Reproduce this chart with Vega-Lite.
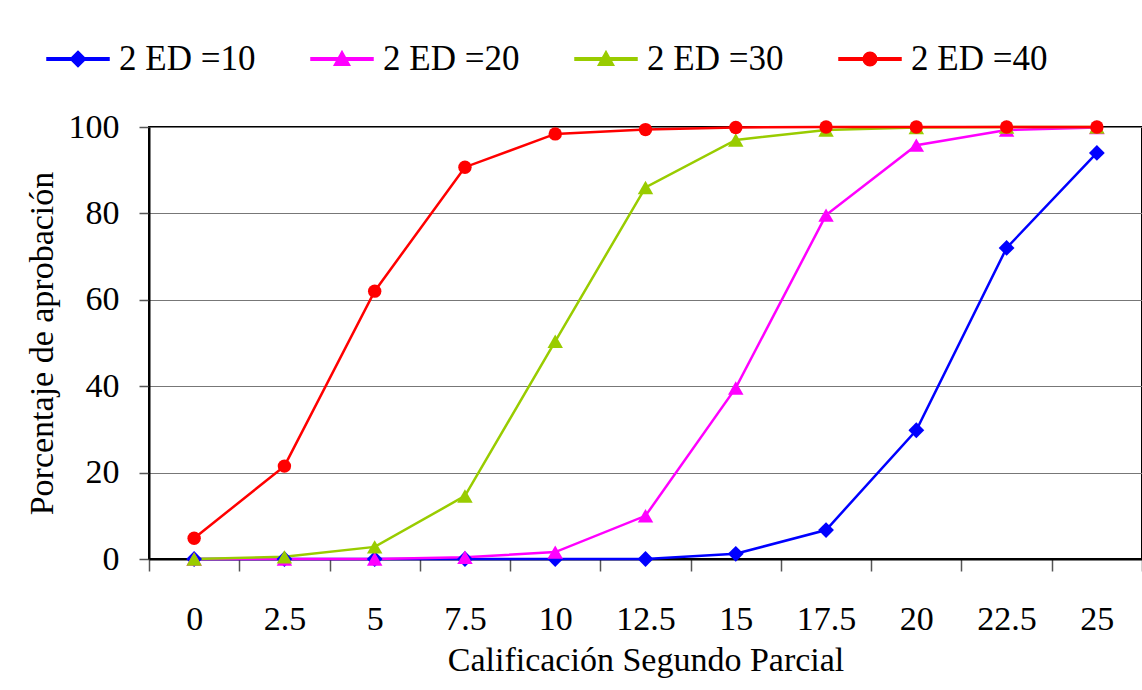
{
  "$schema": "https://vega.github.io/schema/vega-lite/v6.json",
  "autosize": "none",
  "width": 993,
  "height": 432,
  "padding": {"left": 149, "top": 127, "right": 0, "bottom": 131},
  "background": "white",
  "config": {
    "view": {"stroke": "black", "strokeWidth": 2},
    "font": "Liberation Serif",
    "axis": {"labelFont": "Liberation Serif", "titleFont": "Liberation Serif", "labelColor": "black", "titleColor": "black", "titleFontWeight": "normal", "labelFontSize": 34, "titleFontSize": 34, "domainColor": "black", "domainWidth": 2, "tickColor": "#555", "tickWidth": 1.5},
    "legend": {"labelFont": "Liberation Serif", "labelFontSize": 35, "labelColor": "black"}
  },
  "data": {"values": [
    {"x": 0, "s": "2 ED =10", "y": 0}, {"x": 2.5, "s": "2 ED =10", "y": 0}, {"x": 5, "s": "2 ED =10", "y": 0}, {"x": 7.5, "s": "2 ED =10", "y": 0}, {"x": 10, "s": "2 ED =10", "y": 0}, {"x": 12.5, "s": "2 ED =10", "y": 0}, {"x": 15, "s": "2 ED =10", "y": 1.2}, {"x": 17.5, "s": "2 ED =10", "y": 6.7}, {"x": 20, "s": "2 ED =10", "y": 29.8}, {"x": 22.5, "s": "2 ED =10", "y": 72}, {"x": 25, "s": "2 ED =10", "y": 94},
    {"x": 0, "s": "2 ED =20", "y": 0}, {"x": 2.5, "s": "2 ED =20", "y": 0}, {"x": 5, "s": "2 ED =20", "y": 0}, {"x": 7.5, "s": "2 ED =20", "y": 0.4}, {"x": 10, "s": "2 ED =20", "y": 1.6}, {"x": 12.5, "s": "2 ED =20", "y": 10}, {"x": 15, "s": "2 ED =20", "y": 39.6}, {"x": 17.5, "s": "2 ED =20", "y": 79.6}, {"x": 20, "s": "2 ED =20", "y": 95.8}, {"x": 22.5, "s": "2 ED =20", "y": 99.3}, {"x": 25, "s": "2 ED =20", "y": 99.9},
    {"x": 0, "s": "2 ED =30", "y": 0}, {"x": 2.5, "s": "2 ED =30", "y": 0.5}, {"x": 5, "s": "2 ED =30", "y": 2.8}, {"x": 7.5, "s": "2 ED =30", "y": 14.6}, {"x": 10, "s": "2 ED =30", "y": 50.4}, {"x": 12.5, "s": "2 ED =30", "y": 86}, {"x": 15, "s": "2 ED =30", "y": 97}, {"x": 17.5, "s": "2 ED =30", "y": 99.3}, {"x": 20, "s": "2 ED =30", "y": 99.9}, {"x": 22.5, "s": "2 ED =30", "y": 100}, {"x": 25, "s": "2 ED =30", "y": 100},
    {"x": 0, "s": "2 ED =40", "y": 4.8}, {"x": 2.5, "s": "2 ED =40", "y": 21.5}, {"x": 5, "s": "2 ED =40", "y": 62}, {"x": 7.5, "s": "2 ED =40", "y": 90.7}, {"x": 10, "s": "2 ED =40", "y": 98.4}, {"x": 12.5, "s": "2 ED =40", "y": 99.4}, {"x": 15, "s": "2 ED =40", "y": 99.9}, {"x": 17.5, "s": "2 ED =40", "y": 100}, {"x": 20, "s": "2 ED =40", "y": 100}, {"x": 22.5, "s": "2 ED =40", "y": 100}, {"x": 25, "s": "2 ED =40", "y": 100}
  ]},
  "encoding": {
    "x": {"field": "x", "type": "ordinal", "scale": {"type": "band", "paddingInner": 0, "paddingOuter": 0},
      "axis": {"title": "Calificación Segundo Parcial", "labelAngle": 0, "tickBand": "extent", "tickSize": 12, "labelPadding": 31, "titlePadding": 7, "grid": false}},
    "y": {"field": "y", "type": "quantitative", "scale": {"domain": [0, 100], "nice": false},
      "axis": {"title": "Porcentaje de aprobación", "values": [0, 20, 40, 60, 80, 100], "tickSize": 10, "labelPadding": 20, "titlePadding": 9, "grid": true, "gridColor": "#777", "gridWidth": 1}}
  },
  "layer": [
    {"mark": {"type": "point", "filled": true, "size": 0},
      "encoding": {
        "color": {"field": "s", "type": "nominal", "scale": {"domain": ["2 ED =10", "2 ED =20", "2 ED =30", "2 ED =40"], "range": ["#0000ff", "#ff00ff", "#99cc00", "#ff0000"]},
          "legend": {"title": null, "orient": "none", "legendX": -103, "legendY": -100, "direction": "horizontal", "columns": 4, "columnPadding": 52, "symbolOpacity": 1, "symbolSize": 3844, "labelOffset": 9}},
        "shape": {"field": "s", "type": "nominal",
          "scale": {"domain": ["2 ED =10", "2 ED =20", "2 ED =30", "2 ED =40"], "range": [
            "M-1,-0.04H1V0.04H-1ZM0,-0.25L0.25,0L0,0.25L-0.25,0Z",
            "M-1,-0.04H1V0.04H-1ZM0,-0.25L0.25,0.2L-0.25,0.2Z",
            "M-1,-0.04H1V0.04H-1ZM0,-0.25L0.25,0.2L-0.25,0.2Z",
            "M-1,-0.04H1V0.04H-1ZM0.22,0A0.22,0.22 0 1,1 -0.22,0A0.22,0.22 0 1,1 0.22,0Z"]},
          "legend": {"title": null, "orient": "none", "legendX": -103, "legendY": -100, "direction": "horizontal", "columns": 4, "columnPadding": 52, "symbolOpacity": 1, "symbolSize": 3844, "labelOffset": 9}}}},
    {"mark": {"type": "line", "strokeWidth": 2.5},
      "encoding": {"color": {"field": "s", "type": "nominal", "legend": null}}},
    {"mark": {"type": "point", "filled": true, "opacity": 1},
      "encoding": {
        "color": {"field": "s", "type": "nominal", "legend": null},
        "size": {"condition": [{"test": "datum.s === '2 ED =10'", "value": 250}, {"test": "datum.s === '2 ED =40'", "value": 180}], "value": 240},
        "shape": {"condition": [{"test": "datum.s === '2 ED =10'", "value": "diamond"}, {"test": "datum.s === '2 ED =40'", "value": "circle"}], "value": "triangle-up"}}}
  ]
}
